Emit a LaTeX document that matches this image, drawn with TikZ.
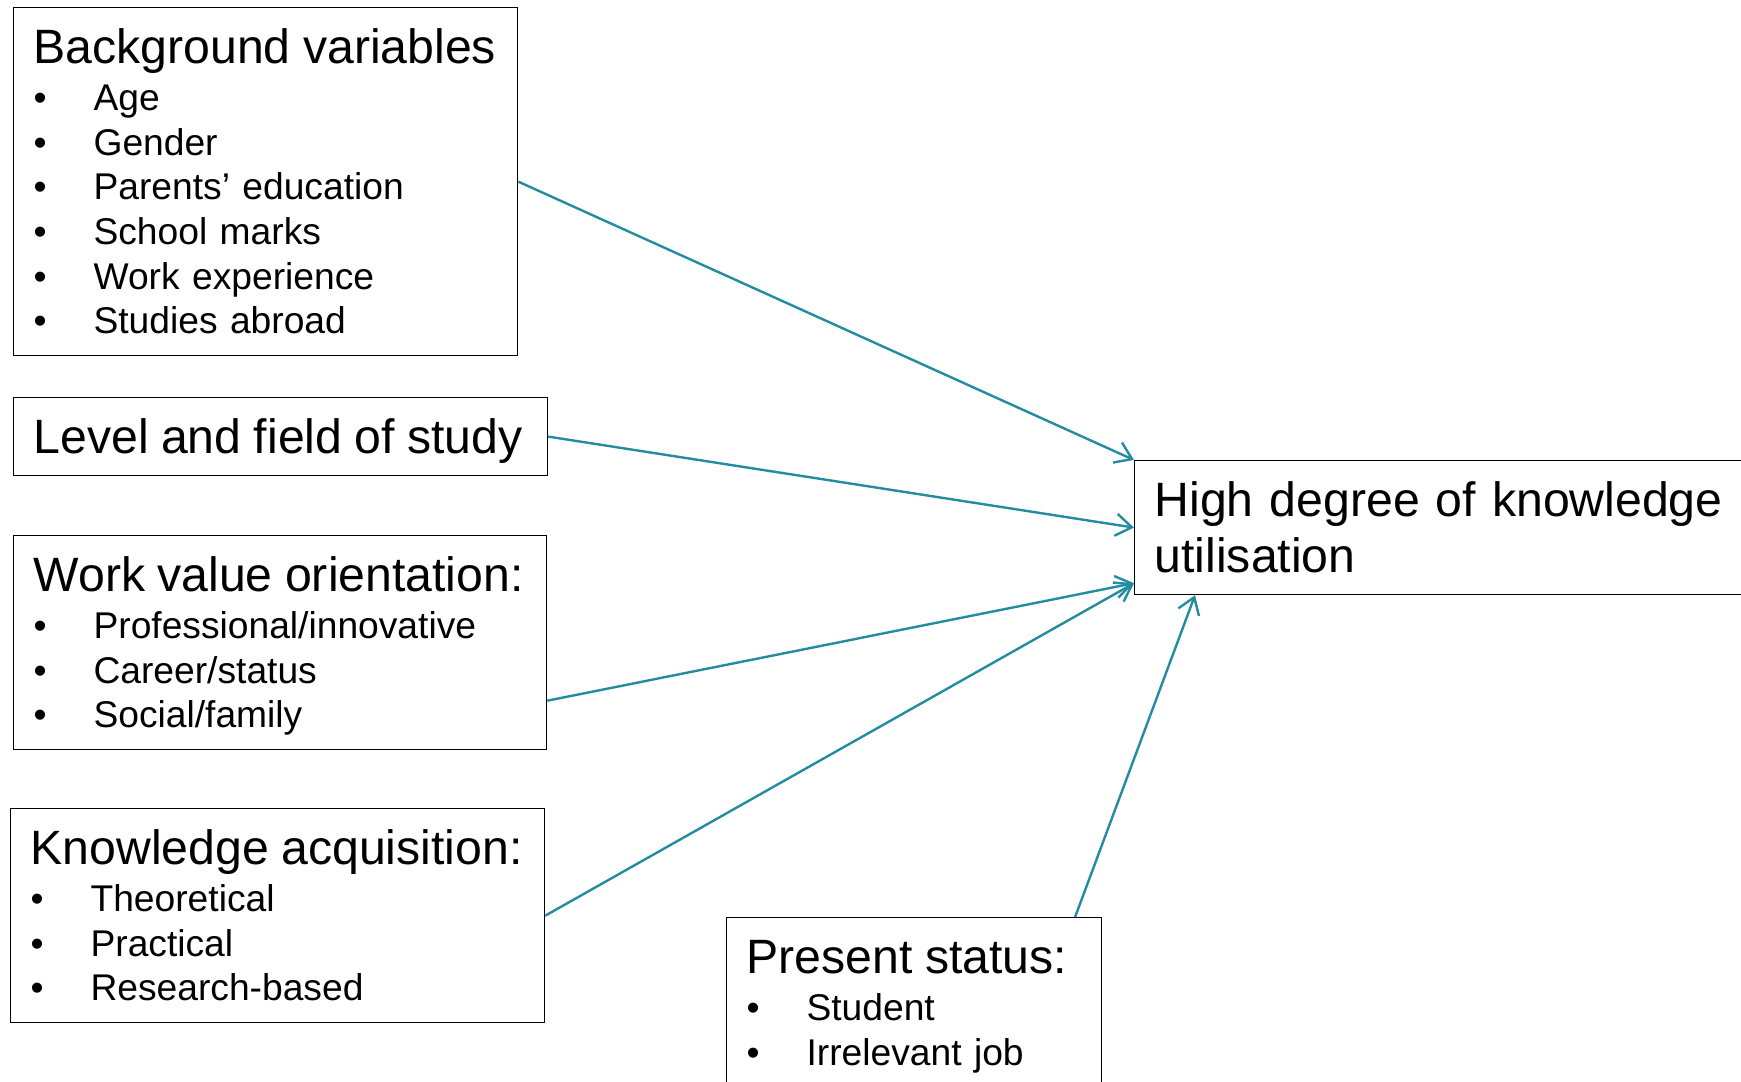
\documentclass[tikz,border=0pt]{standalone}
\usepackage{fontspec}
\setmainfont{Liberation Sans}
\usetikzlibrary{arrows.meta,calc}
\definecolor{linkteal}{RGB}{36,140,160}
\newcommand{\titlefont}{\fontsize{24.1}{28}\selectfont}
\newcommand{\itemfont}{\fontsize{18.6}{22.3}\selectfont}
\newcommand{\ttl}[1]{\rule{0pt}{28pt}\mbox{\titlefont #1}}
\newcommand{\itm}[1]{\makebox[30pt][l]{\textbullet}#1}
\newcommand{\lastln}{\rule[-11pt]{0pt}{11pt}}

\begin{document}
\begin{tikzpicture}[x=0.5pt,y=-0.5pt,>={Straight Barb[length=8pt,width=11pt]},
  box/.style={draw,line width=0.6pt,anchor=north west,align=left,inner xsep=10pt,inner ysep=0pt,font=\itemfont},
  arr/.style={->,draw=linkteal,line width=1.2pt}]
\useasboundingbox (0,0) rectangle (1741,1082);
\clip (0,0) rectangle (1741,1082);
% factor boxes on the left
\node[box,text width=232pt] (bg) at (13,7){\ttl{Background variables}\\[1.2pt]\itm{Age}\\\itm{Gender}\\\itm{Parents’ education}\\\itm{School marks}\\\itm{Work experience}\\\itm{Studies abroad}\lastln};
\node[box,text width=247pt] (level) at (13,397){\ttl{Level and field of study}\lastln};
\node[box,text width=246.5pt] (work) at (13,535){\ttl{Work value orientation:}\\[1.2pt]\itm{Professional/innovative}\\\itm{Career/status}\\\itm{Social/family}\lastln};
\node[box,text width=247pt] (know) at (10,808){\ttl{Knowledge acquisition:}\\[1.2pt]\itm{Theoretical}\\\itm{Practical}\\\itm{Research-based}\lastln};
\node[box,text width=167.5pt] (status) at (726,917){\ttl{Present status:}\\[1.2pt]\itm{Student}\\\itm{Irrelevant job}\lastln};
% outcome
\node[box,text width=310pt,font=\titlefont] (util) at (1134,460){\ttl{High degree of knowledge}\\utilisation\lastln};
% connectors
\draw[arr] (bg.east) -- (util.north west);
\draw[arr] (level.east) -- (util.west);
\draw[arr] ($(work.east)+(0,58)$) -- ($(util.south west)+(0,-12)$);
\draw[arr] (know.east) -- ($(util.south west)+(0,-12)$);
\draw[arr] ($(status.north)+(161,0)$) -- ($(util.south west)+(61,0)$);
\end{tikzpicture}
\end{document}
